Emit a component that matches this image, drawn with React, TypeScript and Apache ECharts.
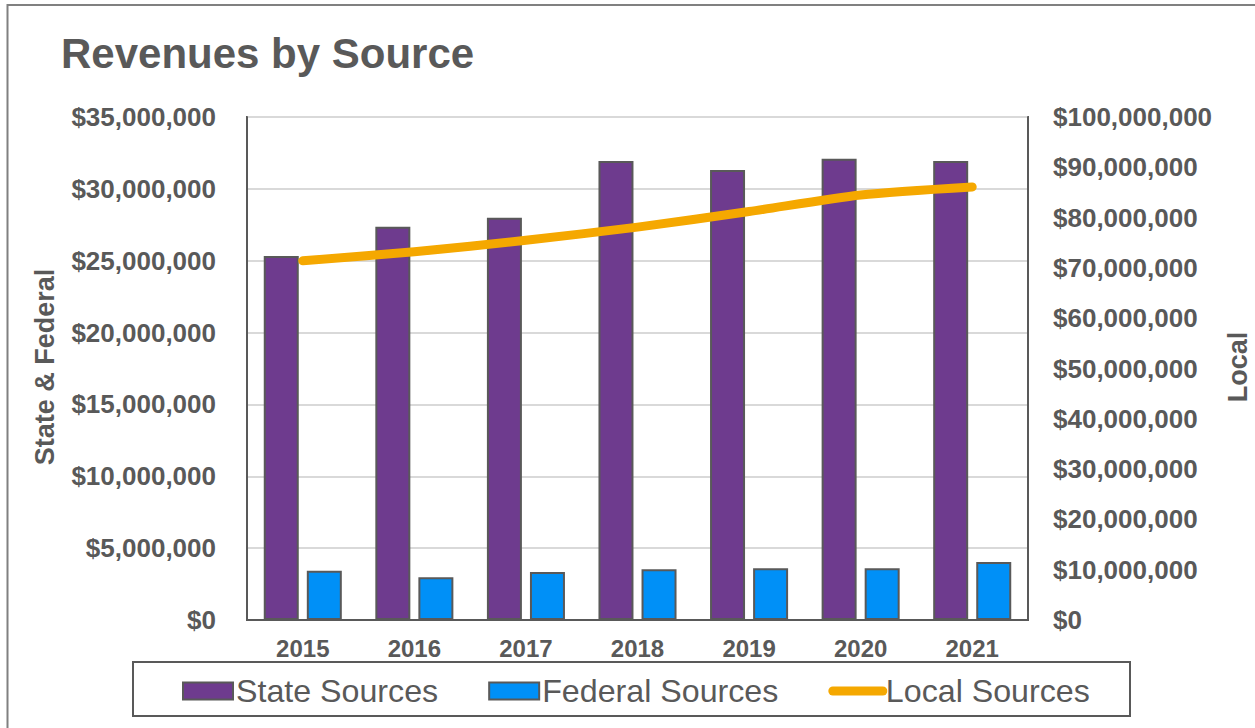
import React, { useEffect, useRef } from "react";
import * as echarts from "echarts";

const years = ["2015", "2016", "2017", "2018", "2019", "2020", "2021"];
const stateSources = [25330000, 27370000, 27990000, 31940000, 31310000, 32100000, 31940000];
const federalSources = [3430000, 2970000, 3340000, 3530000, 3600000, 3600000, 4040000];
const localSources = [71400000, 73200000, 75500000, 78100000, 81200000, 84500000, 86100000];

const TEXT = "#595959";
const FONT = "'Liberation Sans', Arial, sans-serif";
const ORANGE = "#F5A800";

const fmt = (v: number) => "$" + v.toLocaleString("en-US");

export default function App() {
  const ref = useRef<HTMLDivElement>(null);
  useEffect(() => {
    if (!ref.current) return;
    const chart = echarts.init(ref.current, undefined, { renderer: "svg" });
    chart.setOption({
      animation: false,
      backgroundColor: "#ffffff",
      textStyle: { fontFamily: FONT },
      title: {
        text: "Revenues by Source",
        left: 56,
        top: 27,
        textStyle: { fontSize: 42, fontWeight: "bold", color: TEXT, fontFamily: FONT },
      },
      graphic: [
        {
          type: "rect",
          shape: { x: 7.5, y: 5, width: 1400, height: 1000 },
          style: { fill: "none", stroke: "#808080", lineWidth: 2 },
          silent: true,
        },
        {
          type: "rect",
          shape: { x: 133, y: 662, width: 997, height: 54 },
          style: { fill: "none", stroke: TEXT, lineWidth: 2 },
          silent: true,
        },
        {
          type: "text",
          x: 45,
          y: 367,
          rotation: Math.PI / 2,
          style: {
            text: "State & Federal",
            fontSize: 27,
            fontWeight: "bold",
            fill: TEXT,
            fontFamily: FONT,
            textAlign: "center",
            textVerticalAlign: "middle",
          },
        },
        {
          type: "text",
          x: 1238,
          y: 367,
          rotation: Math.PI / 2,
          style: {
            text: "Local",
            fontSize: 27,
            fontWeight: "bold",
            fill: TEXT,
            fontFamily: FONT,
            textAlign: "center",
            textVerticalAlign: "middle",
          },
        },
      ],
      legend: {
        left: 177,
        top: 670,
        itemWidth: 50,
        itemHeight: 17,
        itemGap: 50,
        textStyle: { fontSize: 32.2, color: TEXT, fontFamily: FONT, padding: [0, 0, 0, -2] },
        data: [
          { name: "State Sources", icon: "rect" },
          { name: "Federal Sources", icon: "rect" },
          {
            name: "Local Sources",
            itemStyle: { opacity: 0 },
            lineStyle: { width: 9, cap: "round", color: ORANGE },
          },
        ],
      },
      grid: {
        left: 247,
        right: 227,
        top: 117,
        bottom: 108,
        show: true,
        borderColor: TEXT,
        borderWidth: 2,
        containLabel: false,
      },
      xAxis: {
        type: "category",
        data: years,
        axisTick: { show: false },
        axisLine: { lineStyle: { color: TEXT, width: 2 } },
        axisLabel: { fontSize: 24, fontWeight: "bold", color: TEXT, margin: 16, fontFamily: FONT },
      },
      yAxis: [
        {
          type: "value",
          min: 0,
          max: 35000000,
          interval: 5000000,
          axisLine: { show: true, lineStyle: { color: TEXT, width: 2 } },
          axisTick: { show: false },
          splitLine: { lineStyle: { color: "#d9d9d9", width: 2 } },
          axisLabel: {
            fontSize: 26,
            fontWeight: "bold",
            color: TEXT,
            margin: 31,
            fontFamily: FONT,
            formatter: fmt,
          },
        },
        {
          type: "value",
          min: 0,
          max: 100000000,
          interval: 10000000,
          position: "right",
          axisLine: { show: true, lineStyle: { color: TEXT, width: 2 } },
          axisTick: { show: false },
          splitLine: { show: false },
          axisLabel: {
            fontSize: 26,
            fontWeight: "bold",
            color: TEXT,
            margin: 25,
            fontFamily: FONT,
            formatter: fmt,
          },
        },
      ],
      series: [
        {
          name: "State Sources",
          type: "bar",
          data: stateSources,
          barWidth: 35,
          barGap: "23%",
          itemStyle: { color: "#6E3B8E", borderColor: TEXT, borderWidth: 2 },
        },
        {
          name: "Federal Sources",
          type: "bar",
          data: federalSources,
          barWidth: 35,
          barGap: "23%",
          itemStyle: { color: "#0090F7", borderColor: TEXT, borderWidth: 2 },
        },
        {
          name: "Local Sources",
          type: "line",
          yAxisIndex: 1,
          data: localSources,
          smooth: 0.25,
          symbol: "none",
          lineStyle: { color: ORANGE, width: 9, cap: "round", join: "round" },
          itemStyle: { color: ORANGE },
        },
      ],
    });
    return () => chart.dispose();
  }, []);
  return (
    <div
      ref={ref}
      style={{ position: "fixed", left: 0, top: 0, width: 1255, height: 728 }}
    />
  );
}
